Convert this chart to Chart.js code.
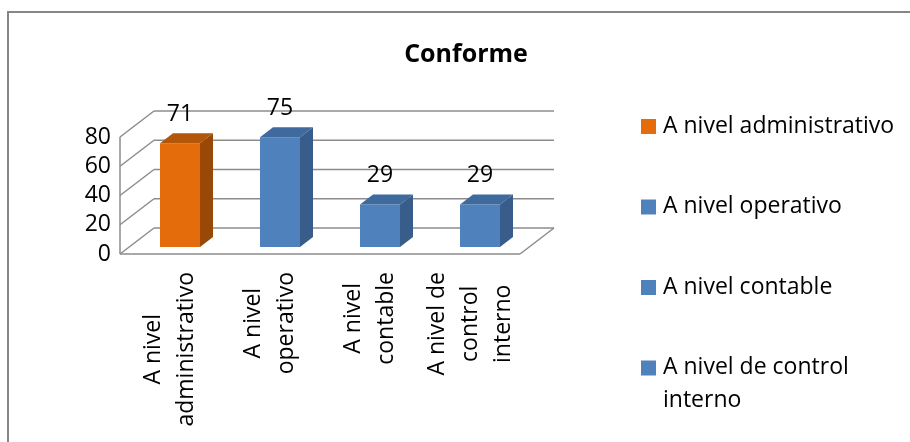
<!DOCTYPE html>
<html>
<head>
<meta charset="utf-8">
<script src="https://cdn.jsdelivr.net/npm/chart.js@4/dist/chart.umd.min.js"></script>
<style>
  body { margin: 0; background: #fff; }
  #wrap { width: 910px; height: 442px; position: relative; }
</style>
</head>
<body>
<div id="wrap"><canvas id="chart"></canvas></div>
<script>
'use strict';

// Data
const categories = ['A nivel administrativo', 'A nivel operativo', 'A nivel contable', 'A nivel de control interno'];
const values = [71, 75, 29, 29];
const yTicks = [0, 20, 40, 60, 80];
const chartTitle = 'Conforme';

// Styles
const FONT = '"Open Sans", sans-serif';
const frontColors = ['#E46C0A', '#4F81BD', '#4F81BD', '#4F81BD'];
const sideColors = ['#984807', '#385D8A', '#385D8A', '#385D8A'];
const topColors = ['#B35607', '#3E6A9E', '#3E6A9E', '#3E6A9E'];
const GRID = '#8c8c8c';

// 3D offsets relative to the plane the bar fronts sit in
const FRONT = { dx: -10, dy: 7 };
const BACK = { dx: 24, dy: -19 };
const BAR_DEPTH = { dx: 13, dy: -10 };

function wrapText(ctx, text, maxWidth) {
  const words = text.split(' ');
  const lines = [];
  let line = '';
  words.forEach(w => {
    const test = line ? line + ' ' + w : w;
    if (line && ctx.measureText(test).width > maxWidth) {
      lines.push(line);
      line = w;
    } else {
      line = test;
    }
  });
  if (line) lines.push(line);
  return lines;
}

function seg(ctx, x1, y1, x2, y2) {
  ctx.beginPath();
  ctx.moveTo(x1, y1);
  ctx.lineTo(x2, y2);
  ctx.stroke();
}

const frame3d = {
  id: 'frame3d',
  beforeDraw(chart) {
    const ctx = chart.ctx;
    ctx.save();
    ctx.fillStyle = '#fff';
    ctx.fillRect(0, 0, chart.width, chart.height);
    ctx.strokeStyle = '#868686';
    ctx.lineWidth = 2;
    ctx.beginPath();
    ctx.moveTo(8, chart.height);
    ctx.lineTo(8, 12);
    ctx.lineTo(chart.width, 12);
    ctx.stroke();
    ctx.restore();
  },
  beforeDatasetsDraw(chart) {
    const ctx = chart.ctx;
    const { left, right } = chart.chartArea;
    const y = chart.scales.y;
    ctx.save();
    ctx.strokeStyle = GRID;
    ctx.lineWidth = 1.5;
    yTicks.forEach(v => {
      const py = y.getPixelForValue(v);
      seg(ctx, left + FRONT.dx, py + FRONT.dy, left + BACK.dx, py + BACK.dy);
      seg(ctx, left + BACK.dx, py + BACK.dy, right + BACK.dx, py + BACK.dy);
    });
    const yTop = y.getPixelForValue(yTicks[yTicks.length - 1]);
    const y0 = y.getPixelForValue(0);
    seg(ctx, left + FRONT.dx, yTop + FRONT.dy, left + FRONT.dx, y0 + FRONT.dy);
    seg(ctx, left + FRONT.dx, y0 + FRONT.dy, right + FRONT.dx, y0 + FRONT.dy);
    seg(ctx, right + FRONT.dx, y0 + FRONT.dy, right + BACK.dx, y0 + BACK.dy);
    ctx.restore();
  },
  afterDatasetsDraw(chart) {
    const ctx = chart.ctx;
    const meta = chart.getDatasetMeta(0);
    ctx.save();
    meta.data.forEach((bar, i) => {
      const { x, y, base, width } = bar.getProps(['x', 'y', 'base', 'width'], true);
      const l = x - width / 2, r = x + width / 2;
      // side face
      ctx.fillStyle = sideColors[i];
      ctx.beginPath();
      ctx.moveTo(r, y);
      ctx.lineTo(r + BAR_DEPTH.dx, y + BAR_DEPTH.dy);
      ctx.lineTo(r + BAR_DEPTH.dx, base + BAR_DEPTH.dy);
      ctx.lineTo(r, base);
      ctx.closePath();
      ctx.fill();
      // top face
      ctx.fillStyle = topColors[i];
      ctx.beginPath();
      ctx.moveTo(l, y);
      ctx.lineTo(l + BAR_DEPTH.dx, y + BAR_DEPTH.dy);
      ctx.lineTo(r + BAR_DEPTH.dx, y + BAR_DEPTH.dy);
      ctx.lineTo(r, y);
      ctx.closePath();
      ctx.fill();
      // value label
      ctx.fillStyle = '#000';
      ctx.font = '23px ' + FONT;
      ctx.textAlign = 'center';
      ctx.textBaseline = 'middle';
      ctx.fillText(String(values[i]), x, y - 29);
    });

    // category labels, rotated, at the front plane
    const xs = chart.scales.x;
    const axisTop = chart.chartArea.bottom + 25;
    ctx.font = '23px ' + FONT;
    ctx.fillStyle = '#000';
    categories.forEach((c, i) => {
      const lines = wrapText(ctx, c, 115);
      const maxW = Math.max(...lines.map(t => ctx.measureText(t).width));
      const cx = xs.getPixelForValue(i) + FRONT.dx;
      ctx.save();
      ctx.translate(cx, axisTop);
      ctx.rotate(-Math.PI / 2);
      ctx.textAlign = 'center';
      ctx.textBaseline = 'middle';
      lines.forEach((t, k) => {
        ctx.fillText(t, -maxW / 2, (k - (lines.length - 1) / 2) * 33);
      });
      ctx.restore();
    });

    // legend: one entry per category
    ctx.textAlign = 'left';
    ctx.textBaseline = 'middle';
    categories.forEach((c, i) => {
      const cy = 126 + i * 80.5;
      ctx.fillStyle = frontColors[i];
      ctx.fillRect(641, cy - 7, 15, 15);
      ctx.fillStyle = '#000';
      wrapText(ctx, c, 240).forEach((t, k) => {
        ctx.fillText(t, 663, cy + k * 33);
      });
    });

    // title
    ctx.font = 'bold 25px ' + FONT;
    ctx.textAlign = 'center';
    ctx.fillText(chartTitle, 466, 55);
    ctx.restore();
  }
};

new Chart(document.getElementById('chart'), {
  type: 'bar',
  data: {
    labels: categories,
    datasets: [{
      data: values,
      backgroundColor: frontColors,
      borderWidth: 0,
      barPercentage: 0.4,
      categoryPercentage: 1.0
    }]
  },
  options: {
    responsive: true,
    maintainAspectRatio: false,
    animation: false,
    layout: { padding: { top: 130, bottom: 195, right: 380, left: 0 } },
    plugins: {
      legend: { display: false },
      title: { display: false },
      tooltip: { enabled: false }
    },
    scales: {
      x: { display: false },
      y: {
        min: 0,
        max: 80,
        afterFit(scale) { scale.width = 130; },
        afterBuildTicks(scale) { scale.ticks = yTicks.map(v => ({ value: v })); },
        grid: { display: false, drawTicks: false },
        border: { display: false },
        ticks: {
          autoSkip: false,
          padding: 19,
          labelOffset: 7,
          color: '#000',
          font: { family: FONT, size: 23 }
        }
      }
    }
  },
  plugins: [frame3d]
});
</script>
</body>
</html>
